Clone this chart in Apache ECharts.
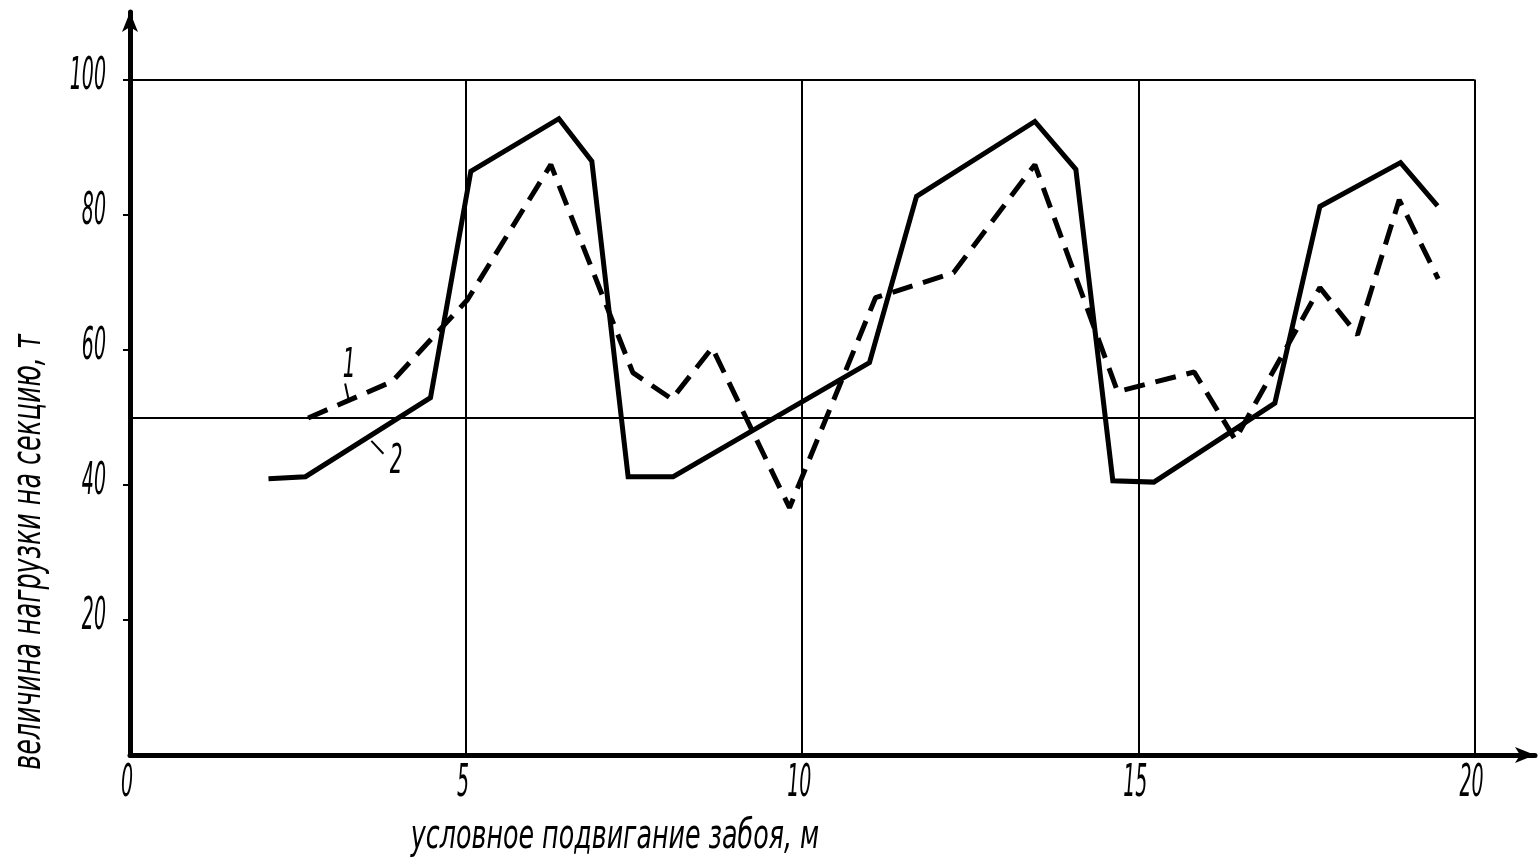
<!DOCTYPE html>
<html>
<head>
<meta charset="utf-8">
<title>величина нагрузки на секцию</title>
<script src="https://cdn.jsdelivr.net/npm/echarts@6/dist/echarts.min.js"></script>
<style>
  html, body { margin: 0; padding: 0; background: #fff; }
  #chart { width: 1539px; height: 868px; }
</style>
</head>
<body>
<div id="chart"></div>
<script>
// tick labels
var xTicks = [0, 5, 10, 15, 20];
var yTicks = [20, 40, 60, 80, 100];

// curve 1 (dashed)
var curve1X = [2.65, 3.90, 5.02, 6.26, 7.48, 8.06, 8.66, 9.81, 11.09, 12.25, 13.46, 14.69, 15.83, 16.44, 17.70, 18.26, 18.88, 19.46];
var curve1Y = [49.9, 55.3, 67.4, 87.4, 56.6, 52.7, 60.3, 36.6, 67.7, 71.4, 87.4, 53.8, 56.7, 46.7, 69.2, 62.2, 82.2, 70.5];

// curve 2 (solid)
var curve2X = [2.06, 2.61, 4.47, 5.07, 6.38, 6.87, 7.41, 8.08, 11.00, 11.70, 13.46, 14.07, 14.62, 15.23, 17.03, 17.70, 18.90, 19.45];
var curve2Y = [40.9, 41.2, 52.9, 86.4, 94.2, 87.9, 41.2, 41.2, 58.1, 82.7, 93.8, 86.7, 40.6, 40.4, 52.1, 81.2, 87.7, 81.3];

// reference line level
var refLevel = 50;

var FONT = "'Liberation Sans Narrow', 'DejaVu Sans Condensed', sans-serif";

function pairs(xs, ys) {
    var out = [];
    for (var i = 0; i < xs.length; i++) {
        out.push([xs[i], ys[i]]);
    }
    return out;
}

var chart = echarts.init(document.getElementById('chart'));

// frame and grid lines, in data coordinates
var frameLines = [
    [{ coord: [0, 100] }, { coord: [20, 100] }],
    [{ coord: [20, 0] }, { coord: [20, 100] }],
    [{ coord: [5, 0] }, { coord: [5, 100] }],
    [{ coord: [10, 0] }, { coord: [10, 100] }],
    [{ coord: [15, 0] }, { coord: [15, 100] }],
    [{ coord: [0, refLevel] }, { coord: [20, refLevel] }]
];

var option = {
    animation: false,
    backgroundColor: '#fff',
    grid: { left: 130, right: 4, top: 12, bottom: 113 },
    xAxis: {
        type: 'value',
        min: 0,
        max: 20.9,
        splitLine: { show: false },
        axisLine: {
            lineStyle: { color: '#000', width: 5 },
            symbol: ['none', 'arrow'],
            symbolSize: [12, 20]
        },
        axisTick: { show: false },
        axisLabel: { show: false }
    },
    yAxis: {
        type: 'value',
        min: 0,
        max: 110,
        splitLine: { show: false },
        axisLine: {
            lineStyle: { color: '#000', width: 5 },
            symbol: ['none', 'arrow'],
            symbolSize: [12, 20]
        },
        axisTick: { show: true, customValues: yTicks, length: 7, lineStyle: { color: '#000', width: 2 } },
        axisLabel: { show: false }
    },
    series: [
        {
            name: '2',
            type: 'line',
            data: pairs(curve2X, curve2Y),
            symbol: 'none',
            z: 3,
            lineStyle: { color: '#000', width: 5, join: 'miter' },
            markLine: {
                silent: true,
                symbol: ['none', 'none'],
                label: { show: false },
                z: 1,
                lineStyle: { color: '#000', width: 2, type: 'solid' },
                data: frameLines
            }
        },
        {
            name: '1',
            type: 'line',
            data: pairs(curve1X, curve1Y),
            symbol: 'none',
            z: 3,
            lineStyle: { color: '#000', width: 5, type: [21, 11] }
        }
    ]
};

chart.setOption(option);

function px(p) { return chart.convertToPixel({ gridIndex: 0 }, p); }

// narrow, tall drafting-style text
function label(text, x, y, size, sx, sy, rot, align) {
    return {
        type: 'text', x: x, y: y, rotation: rot || 0, scaleX: sx, scaleY: sy,
        style: {
            text: text, fill: '#000', font: 'italic ' + size + 'px ' + FONT,
            align: align || 'center', verticalAlign: 'middle'
        }
    };
}

var graphics = [];

// tick labels, placed through the axis scales
xTicks.forEach(function (v) {
    var p = px([v, 0]);
    graphics.push(label(String(v), p[0] - 3, p[1] + 30, 34, 0.62, 1.3));
});
yTicks.forEach(function (v) {
    var p = px([0, v]);
    graphics.push(label(String(v), p[0] - 24, p[1] - 2, 34, 0.62, 1.3, 0, 'right'));
});

// curve labels "1" and "2" with short leaders
var t1 = px([3.26, 57.6]);
var t2 = px([3.96, 43.4]);
var l1a = px([3.20, 55.0]), l1b = px([3.25, 52.7]);
var l2a = px([3.59, 46.5]), l2b = px([3.77, 44.6]);
graphics.push(label('1', t1[0], t1[1], 32, 0.7, 1.3));
graphics.push(label('2', t2[0], t2[1], 32, 0.7, 1.3));
graphics.push({ type: 'line', shape: { x1: l1a[0], y1: l1a[1], x2: l1b[0], y2: l1b[1] }, style: { stroke: '#000', lineWidth: 2 } });
graphics.push({ type: 'line', shape: { x1: l2a[0], y1: l2a[1], x2: l2b[0], y2: l2b[1] }, style: { stroke: '#000', lineWidth: 2 } });

// axis titles
graphics.push(label('условное подвигание забоя, м', 615, 838, 32, 0.88, 1.25));
graphics.push(label('величина нагрузки на секцию, т', 30, 552, 32, 0.88, 1.25, Math.PI / 2));

chart.setOption({ graphic: graphics });
</script>
</body>
</html>
